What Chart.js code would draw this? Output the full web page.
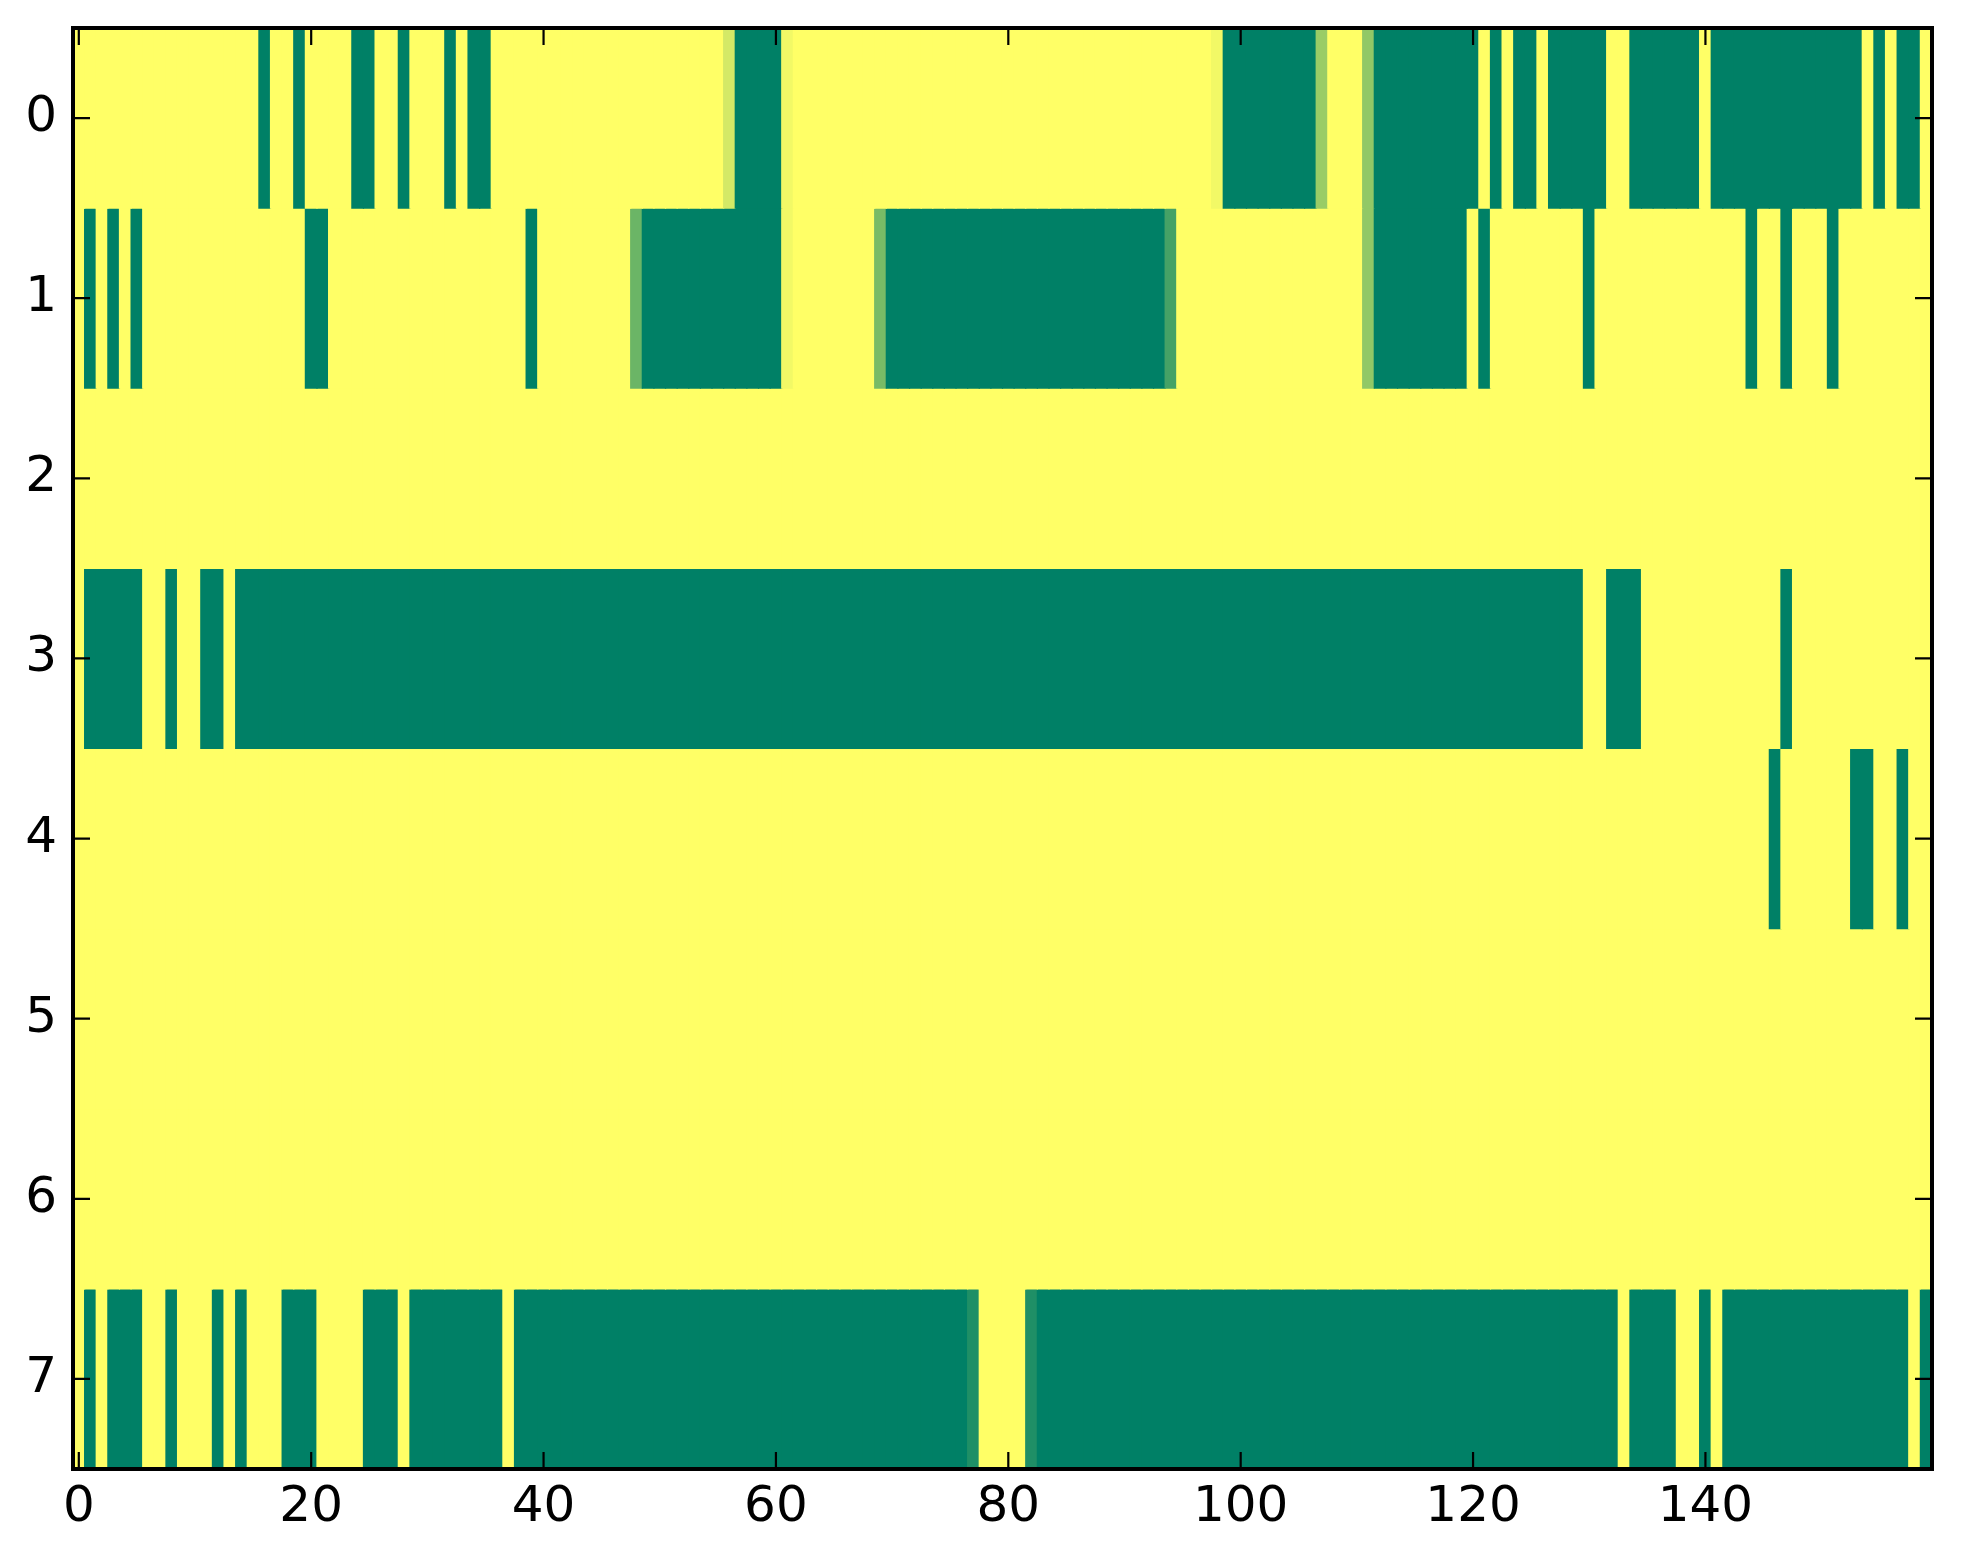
<!DOCTYPE html>
<html>
<head>
<meta charset="utf-8">
<script src="https://cdn.jsdelivr.net/npm/chart.js@4.4.0/dist/chart.umd.min.js"></script>
<style>
html,body{margin:0;padding:0;background:#ffffff;}
#wrap{width:1963px;height:1564px;position:relative;}
</style>
</head>
<body>
<div id="wrap"><canvas id="c"></canvas></div>
<script>
// ---- data ----
const rowLabels = ['0','1','2','3','4','5','6','7'];
const xTickValues = [0,20,40,60,80,100,120,140];
const xTickLabels = ['0','20','40','60','80','100','120','140'];

const row0 = [
 1,1,1,1,1,1,1,1,1,1,
 1,1,1,1,1,1,0,1,1,0,
 1,1,1,1,0,0,1,1,0,1,
 1,1,0,1,0,0,1,1,1,1,
 1,1,1,1,1,1,1,1,1,1,
 1,1,1,1,1,1,0.83,0,0,0,
 0,0.95,1,1,1,1,1,1,1,1,
 1,1,1,1,1,1,1,1,1,1,
 1,1,1,1,1,1,1,1,1,1,
 1,1,1,1,1,1,1,1,0.95,0,
 0,0,0,0,0,0,0,0.6,1,1,
 1,0.57,0,0,0,0,0,0,0,0,
 0,1,0,1,0,0,1,0,0,0,
 0,0,1,1,0,0,0,0,0,0,
 1,0,0,0,0,0,0,0,0,0,
 0,0,0,0,1,0,1,0,0,1
];
const row1 = [
 1,0,1,0,1,0,1,1,1,1,
 1,1,1,1,1,1,1,1,1,1,
 0,0,1,1,1,1,1,1,1,1,
 1,1,1,1,1,1,1,1,1,0,
 1,1,1,1,1,1,1,1,0.42,0,
 0,0,0,0,0,0,0,0,0,0,
 0,0.95,1,1,1,1,1,1,1,0.47,
 0,0,0,0,0,0,0,0,0,0,
 0,0,0,0,0,0,0,0,0,0,
 0,0,0,0,0.27,1,1,1,1,1,
 1,1,1,1,1,1,1,1,1,1,
 1,0.57,0,0,0,0,0,0,0,0,
 1,0,1,1,1,1,1,1,1,1,
 0,1,1,1,1,1,1,1,1,1,
 1,1,1,1,0,1,1,0,1,1,
 1,0,1,1,1,1,1,1,1,1
];
const row2 = [
 1,1,1,1,1,1,1,1,1,1,
 1,1,1,1,1,1,1,1,1,1,
 1,1,1,1,1,1,1,1,1,1,
 1,1,1,1,1,1,1,1,1,1,
 1,1,1,1,1,1,1,1,1,1,
 1,1,1,1,1,1,1,1,1,1,
 1,1,1,1,1,1,1,1,1,1,
 1,1,1,1,1,1,1,1,1,1,
 1,1,1,1,1,1,1,1,1,1,
 1,1,1,1,1,1,1,1,1,1,
 1,1,1,1,1,1,1,1,1,1,
 1,1,1,1,1,1,1,1,1,1,
 1,1,1,1,1,1,1,1,1,1,
 1,1,1,1,1,1,1,1,1,1,
 1,1,1,1,1,1,1,1,1,1,
 1,1,1,1,1,1,1,1,1,1
];
const row3 = [
 1,0,0,0,0,0,1,1,0,1,
 1,0,0,1,0,0,0,0,0,0,
 0,0,0,0,0,0,0,0,0,0,
 0,0,0,0,0,0,0,0,0,0,
 0,0,0,0,0,0,0,0,0,0,
 0,0,0,0,0,0,0,0,0,0,
 0,0,0,0,0,0,0,0,0,0,
 0,0,0,0,0,0,0,0,0,0,
 0,0,0,0,0,0,0,0,0,0,
 0,0,0,0,0,0,0,0,0,0,
 0,0,0,0,0,0,0,0,0,0,
 0,0,0,0,0,0,0,0,0,0,
 0,0,0,0,0,0,0,0,0,0,
 1,1,0,0,0,1,1,1,1,1,
 1,1,1,1,1,1,1,0,1,1,
 1,1,1,1,1,1,1,1,1,1
];
const row4 = [
 1,1,1,1,1,1,1,1,1,1,
 1,1,1,1,1,1,1,1,1,1,
 1,1,1,1,1,1,1,1,1,1,
 1,1,1,1,1,1,1,1,1,1,
 1,1,1,1,1,1,1,1,1,1,
 1,1,1,1,1,1,1,1,1,1,
 1,1,1,1,1,1,1,1,1,1,
 1,1,1,1,1,1,1,1,1,1,
 1,1,1,1,1,1,1,1,1,1,
 1,1,1,1,1,1,1,1,1,1,
 1,1,1,1,1,1,1,1,1,1,
 1,1,1,1,1,1,1,1,1,1,
 1,1,1,1,1,1,1,1,1,1,
 1,1,1,1,1,1,1,1,1,1,
 1,1,1,1,1,1,0,1,1,1,
 1,1,1,0,0,1,1,0,1,1
];
const row5 = [
 1,1,1,1,1,1,1,1,1,1,
 1,1,1,1,1,1,1,1,1,1,
 1,1,1,1,1,1,1,1,1,1,
 1,1,1,1,1,1,1,1,1,1,
 1,1,1,1,1,1,1,1,1,1,
 1,1,1,1,1,1,1,1,1,1,
 1,1,1,1,1,1,1,1,1,1,
 1,1,1,1,1,1,1,1,1,1,
 1,1,1,1,1,1,1,1,1,1,
 1,1,1,1,1,1,1,1,1,1,
 1,1,1,1,1,1,1,1,1,1,
 1,1,1,1,1,1,1,1,1,1,
 1,1,1,1,1,1,1,1,1,1,
 1,1,1,1,1,1,1,1,1,1,
 1,1,1,1,1,1,1,1,1,1,
 1,1,1,1,1,1,1,1,1,1
];
const row6 = [
 1,1,1,1,1,1,1,1,1,1,
 1,1,1,1,1,1,1,1,1,1,
 1,1,1,1,1,1,1,1,1,1,
 1,1,1,1,1,1,1,1,1,1,
 1,1,1,1,1,1,1,1,1,1,
 1,1,1,1,1,1,1,1,1,1,
 1,1,1,1,1,1,1,1,1,1,
 1,1,1,1,1,1,1,1,1,1,
 1,1,1,1,1,1,1,1,1,1,
 1,1,1,1,1,1,1,1,1,1,
 1,1,1,1,1,1,1,1,1,1,
 1,1,1,1,1,1,1,1,1,1,
 1,1,1,1,1,1,1,1,1,1,
 1,1,1,1,1,1,1,1,1,1,
 1,1,1,1,1,1,1,1,1,1,
 1,1,1,1,1,1,1,1,1,1
];
const row7 = [
 1,0,1,0,0,0,1,1,0,1,
 1,1,0,1,0,1,1,1,0,0,
 0,1,1,1,1,0,0,0,1,0,
 0,0,0,0,0,0,0,1,0,0,
 0,0,0,0,0,0,0,0,0,0,
 0,0,0,0,0,0,0,0,0,0,
 0,0,0,0,0,0,0,0,0,0,
 0,0,0,0,0,0,0,0.12,1,1,
 1,1,0.12,0,0,0,0,0,0,0,
 0,0,0,0,0,0,0,0,0,0,
 0,0,0,0,0,0,0,0,0,0,
 0,0,0,0,0,0,0,0,0,0,
 0,0,0,0,0,0,0,0,0,0,
 0,0,0,1,0,0,0,0,1,1,
 0,1,0,0,0,0,0,0,0,0,
 0,0,0,0,0,0,0,0,1,0
];
const rows = [row0,row1,row2,row3,row4,row5,row6,row7];

// ---- colour map (matplotlib "summer") ----
function summer(v){
  return 'rgb(' + Math.round(255*v) + ',' + Math.round(255*(0.5+0.5*v)) + ',102)';
}

const datasets = rows.map((vals, r) => ({
  label: 'row ' + rowLabels[r],
  data: vals.map((v, c) => ({ x: c, y: [r - 0.5, r + 0.5] })),
  backgroundColor: vals.map(summer),
  borderWidth: 0,
  borderSkipped: false,
  grouped: false,
  barPercentage: 1,
  categoryPercentage: 1,
  inflateAmount: 0.6
}));

const TICK_LEN = 17;
const frameTicks = {
  id: 'frameTicks',
  afterDatasetsDraw(chart){
    const ctx = chart.ctx, a = chart.chartArea;
    const xs = chart.scales.x, ys = chart.scales.y;
    ctx.save();
    ctx.strokeStyle = '#000';
    ctx.lineWidth = 2.2;
    ctx.beginPath();
    xs.ticks.forEach(t => {
      const px = xs.getPixelForValue(t.value);
      ctx.moveTo(px, a.bottom); ctx.lineTo(px, a.bottom - TICK_LEN);
      ctx.moveTo(px, a.top); ctx.lineTo(px, a.top + TICK_LEN);
    });
    ys.ticks.forEach(t => {
      const py = ys.getPixelForValue(t.value);
      ctx.moveTo(a.left, py); ctx.lineTo(a.left + TICK_LEN, py);
      ctx.moveTo(a.right, py); ctx.lineTo(a.right - TICK_LEN, py);
    });
    ctx.stroke();
    ctx.lineWidth = 4;
    ctx.strokeRect(a.left, a.top, a.right - a.left, a.bottom - a.top);
    ctx.restore();
  }
};

const tickFont = { family: 'DejaVu Sans', size: 50, lineHeight: 1.0 };

function zeroPad(s){ s.paddingTop = 0; s.paddingBottom = 0; s.paddingLeft = 0; s.paddingRight = 0; }

new Chart(document.getElementById('c'), {
  type: 'bar',
  data: { datasets: datasets },
  plugins: [frameTicks],
  options: {
    responsive: true,
    maintainAspectRatio: false,
    animation: false,
    events: [],
    layout: { padding: { top: 28, right: 31, left: 0, bottom: 0 } },
    plugins: { legend: { display: false }, tooltip: { enabled: false }, title: { display: false } },
    scales: {
      x: {
        type: 'linear',
        position: 'bottom',
        min: -0.5,
        max: 159.5,
        offset: false,
        grid: { display: false, drawTicks: false, offset: false },
        border: { display: false },
        afterBuildTicks: s => { s.ticks = xTickValues.map(v => ({ value: v })); },
        afterFit: s => { s.height = 95; zeroPad(s); },
        ticks: {
          color: '#000',
          font: tickFont,
          padding: 14,
          maxRotation: 0,
          minRotation: 0,
          autoSkip: false,
          callback: (v, i) => xTickLabels[i]
        }
      },
      y: {
        type: 'linear',
        position: 'left',
        reverse: true,
        min: -0.5,
        max: 7.5,
        beginAtZero: false,
        grid: { display: false, drawTicks: false },
        border: { display: false },
        afterBuildTicks: s => { s.ticks = rowLabels.map((l, i) => ({ value: i })); },
        afterFit: s => { s.width = 73; zeroPad(s); },
        ticks: {
          color: '#000',
          font: tickFont,
          padding: 16,
          autoSkip: false,
          callback: (v, i) => rowLabels[i]
        }
      }
    }
  }
});
</script>
</body>
</html>
